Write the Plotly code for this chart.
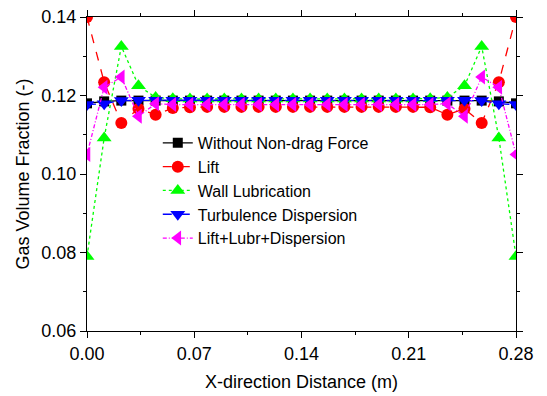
import plotly.graph_objects as go

x_dist = [0.0000, 0.0112, 0.0224, 0.0336, 0.0448, 0.0560, 0.0672, 0.0784, 0.0896,
          0.1008, 0.1120, 0.1232, 0.1344, 0.1456, 0.1568, 0.1680, 0.1792, 0.1904,
          0.2016, 0.2128, 0.2240, 0.2352, 0.2464, 0.2576, 0.2688, 0.2800]

no_drag = [0.1180, 0.1185, 0.1187, 0.1187, 0.1187, 0.1187, 0.1187, 0.1187, 0.1187,
           0.1187, 0.1187, 0.1187, 0.1187, 0.1187, 0.1187, 0.1187, 0.1187, 0.1187,
           0.1187, 0.1187, 0.1187, 0.1187, 0.1187, 0.1187, 0.1185, 0.1180]

lift = [0.1400, 0.1234, 0.1130, 0.1166, 0.1151, 0.1168, 0.1170, 0.1171, 0.1171,
        0.1171, 0.1171, 0.1171, 0.1171, 0.1171, 0.1171, 0.1171, 0.1171, 0.1171,
        0.1171, 0.1171, 0.1170, 0.1151, 0.1166, 0.1130, 0.1234, 0.1400]

wall_lub = [0.0790, 0.1092, 0.1325, 0.1225, 0.1195, 0.1192, 0.1191, 0.1191, 0.1191,
            0.1191, 0.1191, 0.1191, 0.1191, 0.1191, 0.1191, 0.1191, 0.1191, 0.1191,
            0.1191, 0.1191, 0.1192, 0.1195, 0.1225, 0.1325, 0.1092, 0.0790]

turb_disp = [0.1177, 0.1179, 0.1187, 0.1188, 0.1188, 0.1188, 0.1188, 0.1188, 0.1188,
             0.1188, 0.1188, 0.1188, 0.1188, 0.1188, 0.1188, 0.1188, 0.1188, 0.1188,
             0.1188, 0.1188, 0.1188, 0.1188, 0.1188, 0.1187, 0.1179, 0.1177]

combined = [0.1050, 0.1221, 0.1247, 0.1147, 0.1179, 0.1177, 0.1177, 0.1177, 0.1177,
            0.1177, 0.1177, 0.1177, 0.1177, 0.1177, 0.1177, 0.1177, 0.1177, 0.1177,
            0.1177, 0.1177, 0.1177, 0.1179, 0.1147, 0.1247, 0.1221, 0.1050]

series = [
    ("Without Non-drag Force", no_drag, "#000000", "solid", "square", 10),
    ("Lift", lift, "#ff0000", "dash", "circle", 12),
    ("Wall Lubrication", wall_lub, "#00ff00", "dot", "triangle-up", 13),
    ("Turbulence Dispersion", turb_disp, "#0000ff", "dashdot", "triangle-down", 13),
    ("Lift+Lubr+Dispersion", combined, "#ff00ff", "4px,2px,1px,2px", "triangle-left", 13),
]

fig = go.Figure()
for name, vals, col, dash, sym, sz in series:
    fig.add_trace(go.Scatter(
        x=x_dist, y=vals, name=name, mode="lines+markers",
        line=dict(color=col, dash=dash, width=1.3),
        marker=dict(symbol=sym, size=sz, color=col, line=dict(width=0)),
    ))

font_fam = "Arial, Liberation Sans, sans-serif"
axis_common = dict(
    showline=True, linecolor="black", linewidth=1.3, mirror="allticks",
    ticks="outside", ticklen=6, tickwidth=1.3, tickcolor="black",
    showgrid=False, zeroline=False, automargin=False,
    tickfont=dict(family=font_fam, size=18, color="black"),
)

fig.update_xaxes(
    range=[0, 0.28], tickvals=[0, 0.07, 0.14, 0.21, 0.28],
    ticktext=["0.00", "0.07", "0.14", "0.21", "0.28"],
    minor=dict(tickvals=[0.035, 0.105, 0.175, 0.245], ticklen=3, tickcolor="black", ticks="outside", tickwidth=1.3),
    title=dict(text="X-direction Distance (m)", font=dict(family=font_fam, size=18, color="black"), standoff=12),
    **axis_common,
)
fig.update_yaxes(
    range=[0.06, 0.14], tickvals=[0.06, 0.08, 0.10, 0.12, 0.14],
    ticktext=["0.06", "0.08", "0.10", "0.12", "0.14"],
    minor=dict(tickvals=[0.07, 0.09, 0.11, 0.13], ticklen=3, tickcolor="black", ticks="outside", tickwidth=1.3),
    title=dict(text="Gas Volume Fraction (-)", font=dict(family=font_fam, size=18, color="black"), standoff=6),
    **axis_common,
)

fig.update_layout(
    width=547, height=396,
    margin=dict(l=87, r=31, t=17, b=65),
    paper_bgcolor="white", plot_bgcolor="white",
    showlegend=True,
    legend=dict(
        x=0.165, y=0.653, xanchor="left", yanchor="top",
        bgcolor="rgba(0,0,0,0)", borderwidth=0,
        font=dict(family=font_fam, size=16, color="black"),
        tracegroupgap=0,
    ),
)

fig.write_html("out.html")
